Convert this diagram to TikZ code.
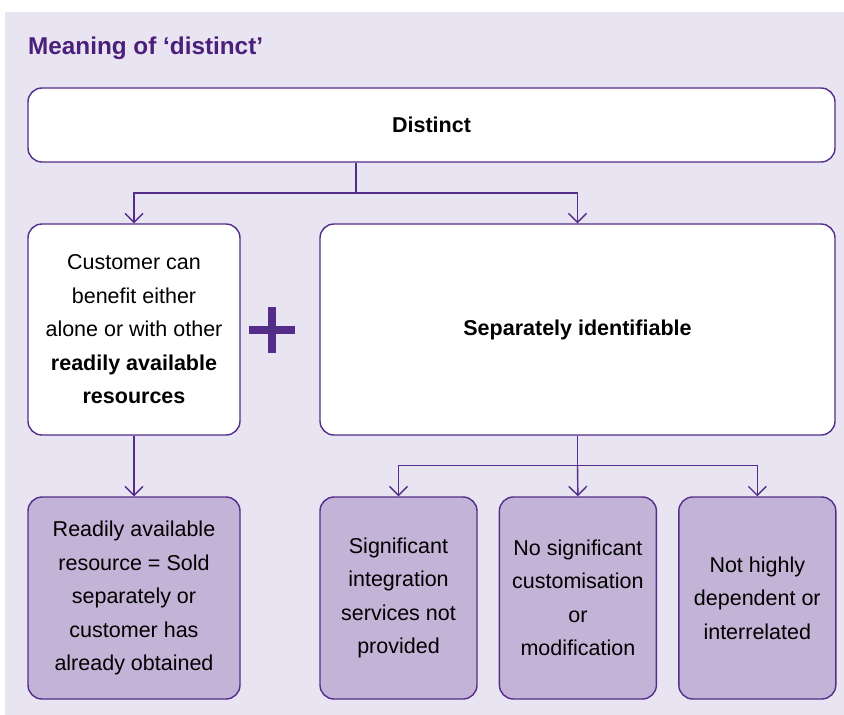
\documentclass[tikz,border=0pt]{standalone}
\usepackage{fontspec}
\setmainfont{Liberation Sans}
\usetikzlibrary{positioning,calc,arrows.meta}

\definecolor{panelbg}{RGB}{232,228,242}
\definecolor{linepurple}{RGB}{84,44,138}
\definecolor{titlepurple}{RGB}{75,31,122}
\definecolor{leaffill}{RGB}{195,179,214}

\tikzset{
  box/.style={draw=linepurple, line width=1.4pt, rounded corners=14pt, fill=white,
    align=center, inner sep=2pt, font=\fontsize{21.5}{33.5}\selectfont},
  leaf/.style={box, fill=leaffill, minimum width=157pt, minimum height=202pt},
  conn/.style={draw=linepurple, line width=1.4pt},
  arr/.style={conn, -{Straight Barb[length=9pt,width=18pt]}},
}

\begin{document}
\begin{tikzpicture}[x=1pt, y=-1pt]
  \useasboundingbox (0,0) rectangle (844,715);
  \fill[panelbg] (5,12) rectangle (844,715);

  \node[anchor=base west, inner sep=0pt, text=titlepurple,
        font=\bfseries\fontsize{24.3}{28}\selectfont] (title) at (28,54) {Meaning of ‘distinct’};

  % top level
  \node[box, minimum width=807pt, minimum height=74pt] (distinct) at (431.5,125) {\textbf{Distinct}};

  % the two criteria
  \node[box, minimum width=212pt, minimum height=211pt] (benefit) at (134,329.5)
    {Customer can\\ benefit either\\ alone or with other\\ \textbf{readily available}\\ \textbf{resources}};
  \node[box, minimum width=515pt, minimum height=211pt] (separate) at (577.5,329.5)
    {\textbf{Separately identifiable}};

  \draw[linepurple, line width=8pt] (249,330) -- (295,330) (272,307) -- (272,353);

  % leaves
  \node[leaf, minimum width=212pt] (readily) at (134,598)
    {Readily available\\ resource = Sold\\ separately or\\ customer has\\ already obtained};
  \node[leaf] (integ) at (398.5,598) {Significant\\ integration\\ services not\\ provided};
  \node[leaf, right=21pt of integ] (custom) {No significant\\ customisation\\ or\\ modification};
  \node[leaf, right=21pt of custom] (depend) {Not highly\\ dependent or\\ interrelated};

  \coordinate (split1) at (356,193);
  \coordinate (split2) at ($(separate.south)+(0,30)$);

  \draw[conn] (split1 |- distinct.south) -- (split1);
  \draw[arr] (split1) -| (benefit.north);
  \draw[arr] (split1) -| (separate.north);
  \draw[arr] (benefit) -- (readily);
  \draw[conn] (separate.south) -- (split2);
  \draw[arr] (split2) -| (integ.north);
  \draw[arr] (split2) -- (custom.north);
  \draw[arr] (split2) -| (depend.north);
\end{tikzpicture}
\end{document}
